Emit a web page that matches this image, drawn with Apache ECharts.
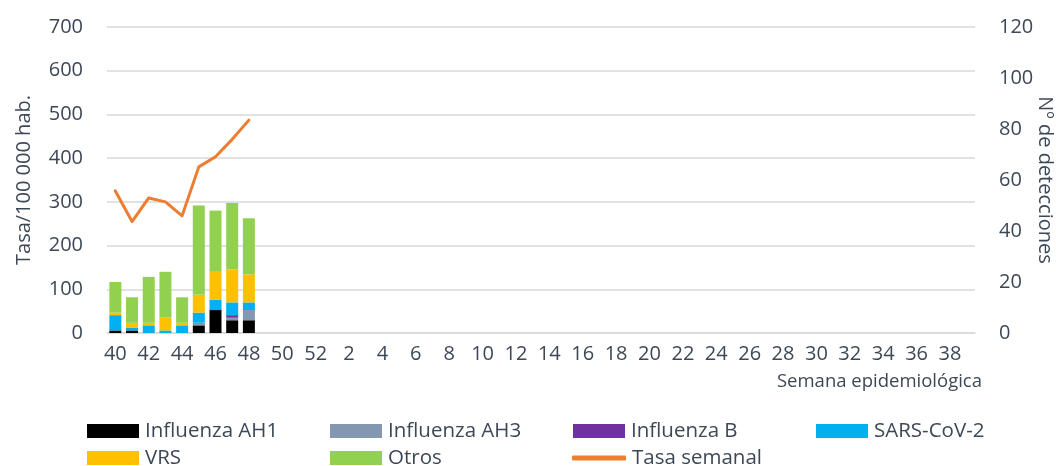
<!DOCTYPE html>
<html>
<head>
<meta charset="utf-8">
<script src="https://cdn.jsdelivr.net/npm/echarts@6/dist/echarts.min.js"></script>
<style>
  html, body { margin: 0; padding: 0; background: #fff; }
  #chart { width: 1056px; height: 466px; }
</style>
</head>
<body>
<div id="chart"></div>
<script>
// semanas epidemiologicas 40..52, 1..39
var semanas = ['40','41','42','43','44','45','46','47','48','49','50','51','52',
  '1','2','3','4','5','6','7','8','9','10','11','12','13','14','15','16','17','18','19','20',
  '21','22','23','24','25','26','27','28','29','30','31','32','33','34','35','36','37','38','39'];

// detecciones por semana (eje derecho)
var ah1   = [1, 1, 0, 0, 0, 3, 9, 5, 5];
var ah3   = [0, 0, 0, 0, 0, 1, 0, 1, 4];
var fluB  = [0, 0, 0, 0, 0, 0, 0, 1, 0];
var sars  = [6, 1, 3, 1, 3, 4, 4, 5, 3];
var vrs   = [1, 2, 1, 5, 1, 7, 11, 13, 11];
var otros = [12, 10, 18, 18, 10, 35, 24, 26, 22];

// tasa semanal (eje izquierdo)
var tasa = [325, 255, 309, 300, 268, 380, 403, 443, 487];

var txt = '#3d4856';
var font = '"Open Sans", sans-serif';

var chart = echarts.init(document.getElementById('chart'));

function bar(name, data, color) {
  return {
    name: name, type: 'bar', stack: 'det', yAxisIndex: 1,
    barWidth: 12, data: data,
    itemStyle: { color: color },
    emphasis: { disabled: true }
  };
}

var legendItems = [
  { name: 'Influenza AH1', left: 87, top: 431 },
  { name: 'Influenza AH3', left: 330, top: 431 },
  { name: 'Influenza B', left: 573, top: 431 },
  { name: 'SARS-CoV-2', left: 816, top: 431 },
  { name: 'VRS', left: 87, top: 458 },
  { name: 'Otros', left: 330, top: 458 },
  { name: 'Tasa semanal', left: 572, top: 458 }
];

var legends = legendItems.map(function (it) {
  var isLine = it.name === 'Tasa semanal';
  var item = { name: it.name, icon: isLine ? 'roundRect' : 'rect' };
  if (isLine) item.itemStyle = { color: '#ED7D31', borderWidth: 0 };
  return {
    data: [item],
    left: it.left, top: it.top - 13, height: 26,
    padding: 0,
    itemWidth: isLine ? 54 : 52, itemHeight: isLine ? 5 : 14, itemGap: 0,
    selectedMode: false,
    textStyle: { fontFamily: font, fontSize: 20.5, color: txt, lineHeight: 26, padding: [0, 0, 0, 1] }
  };
});

chart.setOption({
  animation: false,
  textStyle: { fontFamily: font },
  grid: { left: 107, right: 81, top: 27, bottom: 133, outerBoundsMode: 'none', containLabel: false },
  legend: legends,
  graphic: [{
    type: 'text', right: 74, top: 372,
    style: { text: 'Semana epidemiológica', fontFamily: font, fontSize: 18.5, fill: txt }
  }],
  xAxis: {
    type: 'category', data: semanas,
    axisLine: { lineStyle: { color: '#d9d9d9', width: 1.5 } },
    axisTick: { show: false },
    axisLabel: { interval: 1, color: txt, fontSize: 20, fontFamily: font, margin: 11 }
  },
  yAxis: [{
    type: 'value', min: 0, max: 700, interval: 100,
    name: 'Tasa/100 000 hab.', nameLocation: 'middle', nameRotate: 90, nameGap: 73,
    nameMoveOverlap: false,
    nameTextStyle: { color: txt, fontSize: 20, fontFamily: font },
    axisLine: { show: false }, axisTick: { show: false },
    axisLabel: { color: txt, fontSize: 20, fontFamily: font, margin: 24 },
    splitLine: { lineStyle: { color: '#d9d9d9', width: 1.5 } }
  }, {
    type: 'value', min: 0, max: 120, interval: 20, position: 'right',
    name: 'Nº de detecciones', nameLocation: 'middle', nameRotate: -90, nameGap: 60,
    nameMoveOverlap: false,
    nameTextStyle: { color: txt, fontSize: 20, fontFamily: font },
    axisLine: { show: false }, axisTick: { show: false },
    axisLabel: { color: txt, fontSize: 20, fontFamily: font, margin: 24 },
    splitLine: { show: false }
  }],
  series: [
    bar('Influenza AH1', ah1, '#000000'),
    bar('Influenza AH3', ah3, '#8497B0'),
    bar('Influenza B', fluB, '#7030A0'),
    bar('SARS-CoV-2', sars, '#00B0F0'),
    bar('VRS', vrs, '#FFC000'),
    bar('Otros', otros, '#92D050'),
    {
      name: 'Tasa semanal', type: 'line', yAxisIndex: 0, data: tasa,
      symbol: 'none', itemStyle: { color: '#ED7D31' },
      lineStyle: { color: '#ED7D31', width: 3, cap: 'round', join: 'round' },
      emphasis: { disabled: true }
    }
  ]
});
</script>
</body>
</html>
